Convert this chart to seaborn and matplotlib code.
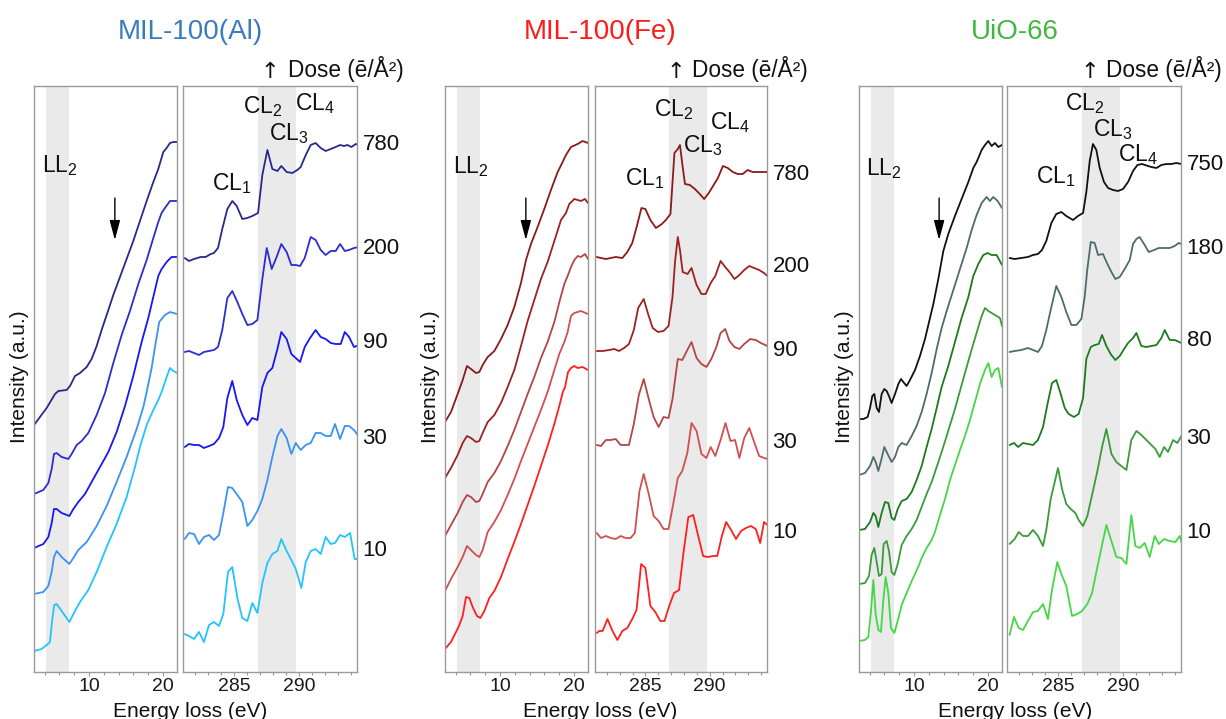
import matplotlib
matplotlib.use("Agg")
import matplotlib.pyplot as plt
from matplotlib.ticker import FixedLocator, MultipleLocator
import pandas as pd
import seaborn as sns

# ---------------------------------------------------------------- data
# energy in eV, intensity in arbitrary units (stacked spectra)
al_doses = ["780", "200", "90", "30", "10"]
fe_doses = ["780", "200", "90", "30", "10"]
uio_doses = ["750", "180", "80", "30", "10"]

al_colors = ["#29298c", "#2c2cd2", "#1717f2", "#3a93f2", "#22c4ff"]
fe_colors = ["#8b1a1a", "#9c2222", "#b24646", "#d24f4f", "#ff1f1f"]
uio_colors = ["#111111", "#4f6c6c", "#1e7a1e", "#3b9b3b", "#46d646"]

# ---- MIL-100(Al) low loss
al_low_780 = [(2.57,247),(4.28,264),(5.41,278),(5.86,281),(6.98,282),(7.44,286),(8.11,296),(8.79,299),(9.69,305),(10.36,313),(11.04,326),(11.71,342),(12.62,362),(13.29,377),(14.19,395),(15.09,413),(15.99,431),(16.89,451),(17.8,471),(18.7,490),(19.37,503),(20.05,520),(20.5,524),(20.95,529),(21.4,530),(21.9,530)]
al_low_200 = [(2.57,178),(3.83,182),(4.51,189),(4.96,203),(5.27,218),(5.63,219),(6.31,215),(7.21,213),(7.66,218),(8.34,227),(9.01,231),(9.91,239),(11.04,257),(12.17,279),(13.29,309),(14.42,337),(15.54,361),(16.67,388),(17.8,412),(18.7,434),(19.37,450),(19.82,459),(20.27,464),(20.95,471),(21.9,471)]
al_low_90 = [(2.57,124),(3.83,128),(4.51,135),(4.96,149),(5.27,163),(5.63,163),(6.31,159),(7.35,156),(7.89,163),(8.56,170),(9.46,178),(10.36,190),(11.49,205),(12.62,220),(13.74,240),(14.87,266),(15.99,296),(17.12,330),(18.02,354),(18.92,382),(19.37,396),(19.82,403),(20.5,410),(21.17,415),(21.9,415)]
al_low_30 = [(2.57,78),(3.83,80),(4.51,86),(4.96,100),(5.27,115),(5.63,121),(6.31,115),(7.35,108),(7.89,114),(8.56,122),(9.69,130),(11.04,146),(12.39,166),(13.74,190),(15.09,215),(16.44,243),(17.35,265),(17.8,280),(18.47,304),(18.92,325),(19.5,350),(20.27,357),(20.95,360),(21.9,358)]
al_low_10 = [(2.57,21),(3.6,23),(4.28,27),(4.73,30),(5.0,50),(5.3,67),(5.63,68),(6.31,61),(7.35,50),(8.11,61),(8.79,70),(9.91,82),(11.04,100),(12.39,125),(13.74,148),(15.09,175),(16.22,205),(16.89,225),(17.8,247),(18.7,262),(19.37,272),(19.82,280),(20.5,295),(20.95,304),(21.4,301),(21.9,299)]

# ---- MIL-100(Al) C K-edge
al_core_780 = [(281.21,414),(281.54,411),(281.93,413),(282.44,415),(282.82,415),(283.21,418),(283.46,419),(283.77,424),(284.1,443),(284.49,463),(284.87,471),(285.21,466),(285.64,453),(286.03,454),(286.41,456),(286.85,459),(287.18,497),(287.57,522),(287.95,503),(288.34,501),(288.64,506),(289.05,500),(289.49,499),(289.87,502),(290.13,505),(290.52,517),(290.9,527),(291.28,529),(291.67,524),(292.05,521),(292.44,523),(292.82,525),(293.16,527),(293.46,526),(293.72,527),(294.03,525),(294.36,528),(294.62,527)]
al_core_200 = [(281.21,320),(281.54,321),(281.93,319),(282.31,317),(282.69,320),(283.08,321),(283.46,322),(283.77,325),(284.1,342),(284.49,374),(284.87,381),(285.26,370),(285.64,358),(286.03,347),(286.41,348),(286.8,352),(287.18,393),(287.52,424),(287.9,403),(288.28,415),(288.64,428),(289.05,420),(289.41,407),(289.75,407),(290.08,406),(290.44,414),(290.9,435),(291.28,432),(291.67,422),(292.05,417),(292.44,421),(292.82,421),(293.16,428),(293.52,421),(293.85,422),(294.23,424),(294.62,425)]
al_core_90 = [(281.21,225),(281.54,228),(281.93,227),(282.31,227),(282.69,224),(283.08,226),(283.46,228),(283.85,234),(284.18,245),(284.49,274),(284.87,291),(285.21,272),(285.64,257),(286.03,247),(286.41,254),(286.8,252),(287.18,285),(287.57,299),(287.95,304),(288.34,323),(288.64,340),(289.05,333),(289.41,318),(289.75,314),(290.08,310),(290.44,325),(290.85,334),(291.28,342),(291.67,335),(292.05,333),(292.44,329),(292.82,328),(293.21,328),(293.52,340),(293.85,335),(294.23,325),(294.62,327)]
al_core_30 = [(281.21,133),(281.54,139),(281.93,138),(282.31,128),(282.69,135),(283.08,137),(283.46,132),(283.85,137),(284.18,159),(284.54,185),(284.87,184),(285.26,177),(285.64,170),(286.03,146),(286.41,152),(286.8,161),(287.18,173),(287.57,192),(287.95,215),(288.34,236),(288.64,243),(289.05,234),(289.41,218),(289.75,229),(290.13,222),(290.52,227),(290.9,229),(291.28,239),(291.67,239),(292.05,236),(292.44,236),(292.77,248),(293.16,233),(293.52,246),(293.85,246),(294.23,242),(294.62,235)]
al_core_10 = [(281.21,38),(281.54,36),(281.93,33),(282.31,40),(282.69,30),(283.08,47),(283.46,50),(283.85,46),(284.18,58),(284.54,100),(284.87,105),(285.26,74),(285.64,54),(286.03,51),(286.41,69),(286.8,59),(287.18,89),(287.57,109),(287.95,118),(288.34,121),(288.64,133),(289.05,121),(289.41,112),(289.75,103),(290.18,84),(290.52,110),(290.9,121),(291.28,123),(291.67,118),(292.05,135),(292.44,128),(292.77,129),(293.16,137),(293.52,135),(293.93,139),(294.28,113),(294.62,113)]

# ---- MIL-100(Fe) low loss
fe_low_780 = [(2.57,250),(3.38,260),(4.28,278),(4.96,292),(5.54,306),(6.08,303),(6.76,299),(7.21,300),(7.66,307),(8.34,315),(9.24,321),(10.14,333),(11.04,347),(11.94,365),(12.84,389),(13.52,412),(14.19,428),(15.09,445),(15.99,463),(16.89,482),(17.8,500),(18.47,510),(18.92,517),(19.6,525),(20.5,528),(21.17,531),(21.9,529)]
fe_low_200 = [(2.57,194),(3.38,204),(4.28,217),(4.96,229),(5.54,236),(6.08,234),(6.76,230),(7.21,231),(7.66,239),(8.34,250),(9.24,257),(10.14,269),(11.04,285),(11.94,302),(12.84,326),(13.74,351),(14.64,372),(15.54,393),(16.44,410),(17.35,431),(18.25,452),(18.92,459),(19.37,468),(20.05,473),(20.95,471),(21.49,473),(21.9,469)]
fe_low_90 = [(2.57,136),(3.38,147),(4.28,159),(4.96,170),(5.54,177),(6.08,175),(6.76,170),(7.21,171),(7.66,178),(8.34,190),(9.24,199),(10.14,211),(11.04,226),(11.94,242),(12.84,260),(13.74,278),(14.64,295),(15.54,314),(16.44,330),(17.35,350),(18.1,372),(18.7,388),(19.2,397),(19.6,405),(20.05,412),(20.5,416),(20.95,415),(21.49,418),(21.9,413)]
fe_low_30 = [(2.57,81),(3.38,93),(4.28,105),(4.96,115),(5.54,126),(6.08,122),(6.76,117),(7.21,115),(7.66,122),(8.34,140),(9.24,150),(10.14,162),(11.04,177),(11.94,193),(12.84,211),(13.74,228),(14.64,245),(15.54,262),(16.44,280),(17.35,302),(18.02,318),(18.7,330),(19.15,340),(19.6,356),(20.05,359),(20.95,361),(21.9,358)]
fe_low_10 = [(2.57,23),(3.38,30),(4.06,40),(4.51,47),(4.96,56),(5.41,75),(5.86,74),(6.31,65),(6.89,56),(7.35,54),(7.89,61),(8.56,74),(9.24,81),(10.14,95),(11.04,113),(11.94,130),(12.84,148),(13.74,167),(14.64,186),(15.54,206),(16.44,226),(17.35,248),(18.02,266),(18.5,280),(18.8,285),(19.2,300),(19.6,304),(20.05,306),(20.5,304),(21.17,305),(21.9,302)]

# ---- MIL-100(Fe) C K-edge
fe_core_780 = [(281.21,415),(281.54,414),(281.93,413),(282.31,414),(282.69,415),(283.21,414),(283.59,420),(283.98,429),(284.36,447),(284.69,464),(285.0,463),(285.39,452),(285.82,444),(286.28,448),(286.59,452),(286.95,458),(287.26,519),(287.52,523),(287.69,527),(287.87,508),(288.08,488),(288.46,487),(288.85,483),(289.23,478),(289.57,473),(289.93,479),(290.26,486),(290.64,494),(291.03,506),(291.41,504),(291.8,500),(292.18,498),(292.57,498),(292.95,502),(293.34,500),(293.72,500),(294.1,500),(294.49,500)]
fe_core_200 = [(281.21,321),(281.67,321),(282.18,322),(282.57,323),(282.95,321),(283.34,324),(283.72,328),(284.1,342),(284.44,364),(284.87,373),(285.21,358),(285.57,344),(285.98,340),(286.41,341),(286.8,346),(287.11,375),(287.31,411),(287.52,435),(287.69,422),(287.9,400),(288.28,398),(288.59,404),(288.98,387),(289.36,378),(289.69,378),(290.08,389),(290.44,396),(290.85,411),(291.21,405),(291.54,400),(291.93,393),(292.31,397),(292.69,402),(293.08,406),(293.46,404),(293.85,402),(294.23,399),(294.49,396)]
fe_core_90 = [(281.21,227),(281.54,226),(281.93,232),(282.31,232),(282.69,233),(283.08,227),(283.72,227),(284.1,248),(284.49,277),(284.87,293),(285.26,273),(285.64,255),(286.03,245),(286.41,255),(286.8,254),(287.11,273),(287.52,313),(287.87,312),(288.26,322),(288.59,330),(288.98,314),(289.36,308),(289.75,305),(290.13,313),(290.52,325),(290.85,339),(291.21,343),(291.54,331),(291.93,325),(292.31,323),(292.69,328),(293.16,333),(293.59,332),(293.98,329),(294.49,326)]
fe_core_30 = [(281.21,139),(281.54,134),(281.93,136),(282.31,134),(282.69,133),(283.08,136),(283.46,134),(283.85,134),(284.18,139),(284.54,181),(284.87,198),(285.26,178),(285.64,156),(286.03,151),(286.41,143),(286.8,143),(287.18,169),(287.52,194),(287.87,201),(288.26,219),(288.59,249),(288.98,241),(289.36,218),(289.75,214),(290.08,225),(290.44,216),(290.85,232),(291.23,249),(291.62,231),(291.98,232),(292.31,214),(292.69,234),(293.08,244),(293.46,230),(293.85,216),(294.23,214),(294.49,213)]
fe_core_10 = [(281.21,39),(281.41,41),(281.67,41),(282.05,53),(282.44,41),(282.82,32),(283.21,41),(283.59,44),(283.98,53),(284.31,62),(284.67,108),(285.0,104),(285.39,66),(285.77,60),(286.16,51),(286.49,51),(286.85,66),(287.23,79),(287.62,82),(287.95,118),(288.34,155),(288.72,157),(289.11,136),(289.49,116),(289.87,115),(290.26,116),(290.59,116),(290.95,136),(291.28,150),(291.67,142),(292.05,133),(292.44,141),(292.82,144),(293.21,146),(293.59,143),(293.93,129),(294.23,150),(294.49,147)]

# ---- UiO-66 low loss
uio_low_750 = [(2.57,253),(3.16,253),(3.74,255),(4.06,264),(4.37,276),(4.64,278),(4.96,264),(5.27,260),(5.63,278),(5.99,283),(6.31,281),(6.62,276),(6.98,269),(7.44,278),(7.89,288),(8.25,293),(8.56,290),(9.01,286),(9.46,292),(10.14,302),(10.81,316),(11.49,333),(11.94,347),(12.62,368),(13.29,393),(13.97,421),(14.64,438),(15.54,456),(16.44,473),(17.35,490),(18.02,504),(18.47,510),(19.15,522),(19.6,527),(20.05,531),(20.5,526),(20.95,529),(21.4,525),(21.9,527)]
uio_low_180 = [(2.57,197),(3.38,199),(4.06,206),(4.51,215),(4.82,210),(5.18,201),(5.54,211),(5.99,225),(6.44,218),(6.98,210),(7.44,215),(7.89,225),(8.34,229),(9.01,227),(9.69,236),(10.36,246),(11.04,260),(11.71,278),(12.39,299),(13.07,323),(13.74,344),(14.42,361),(15.32,382),(16.22,403),(17.12,424),(17.8,442),(18.47,457),(19.15,469),(19.82,475),(20.27,471),(20.72,475),(21.31,471),(21.9,464)]
uio_low_80 = [(2.57,142),(3.38,143),(4.06,150),(4.51,159),(4.82,156),(5.18,145),(5.63,159),(6.08,170),(6.53,169),(6.98,154),(7.35,152),(7.8,163),(8.34,171),(9.01,173),(9.69,180),(10.36,192),(11.04,206),(11.71,225),(12.39,243),(13.07,264),(13.74,285),(14.64,306),(15.54,330),(16.44,354),(17.35,375),(18.02,396),(18.7,408),(19.37,417),(19.96,419),(20.5,417),(21.17,417),(21.9,407)]
uio_low_30 = [(2.57,88),(3.38,89),(3.92,96),(4.28,117),(4.64,124),(4.96,110),(5.27,96),(5.63,98),(5.9,128),(6.31,131),(6.62,121),(6.98,100),(7.35,97),(7.8,108),(8.34,127),(9.01,136),(9.69,143),(10.36,152),(11.04,165),(11.71,178),(12.39,190),(13.07,205),(13.74,220),(14.42,236),(15.54,263),(16.44,287),(17.35,311),(18.02,328),(18.7,345),(19.15,356),(19.6,364),(20.05,361),(20.95,357),(21.62,354),(21.9,346)]
uio_low_10 = [(2.57,31),(3.38,32),(3.83,35),(4.19,61),(4.51,92),(4.82,58),(5.18,42),(5.54,40),(5.86,72),(6.17,95),(6.53,79),(6.89,44),(7.35,39),(7.8,51),(8.34,67),(9.01,79),(9.69,91),(10.14,98),(10.68,107),(11.04,114),(11.71,124),(12.39,132),(12.84,140),(13.52,157),(14.19,173),(14.87,192),(15.54,207),(16.22,222),(16.89,236),(17.57,252),(18.25,270),(18.92,288),(19.6,302),(20.05,309),(20.5,295),(20.95,302),(21.4,304),(21.9,285)]

# ---- UiO-66 C K-edge
uio_core_750 = [(281.28,414),(281.67,413),(282.18,414),(282.69,415),(283.08,417),(283.46,418),(283.77,422),(284.1,431),(284.49,449),(284.87,458),(285.26,460),(285.64,456),(286.16,452),(286.54,456),(286.93,459),(287.18,480),(287.44,511),(287.69,528),(287.95,522),(288.21,504),(288.54,490),(288.85,484),(289.23,482),(289.62,481),(290.0,483),(290.39,490),(290.77,501),(291.11,507),(291.46,508),(291.93,506),(292.18,505),(292.57,504),(292.95,507),(293.34,508),(293.72,508),(294.1,509),(294.49,508)]
uio_core_180 = [(281.28,320),(281.67,321),(282.18,322),(282.69,324),(283.08,322),(283.46,320),(283.77,326),(284.1,342),(284.49,365),(284.87,386),(285.26,375),(285.64,360),(286.03,347),(286.41,347),(286.8,353),(287.05,375),(287.26,403),(287.52,430),(287.82,429),(288.08,417),(288.46,418),(288.8,408),(289.11,400),(289.41,393),(289.75,395),(290.13,403),(290.52,412),(290.77,428),(291.03,433),(291.28,435),(291.62,428),(291.98,420),(292.39,422),(292.75,424),(293.16,424),(293.59,424),(293.98,426),(294.28,429),(294.49,428)]
uio_core_80 = [(281.28,227),(281.62,229),(281.93,225),(282.31,229),(282.69,228),(283.08,227),(283.46,232),(283.85,245),(284.18,267),(284.54,289),(284.87,292),(285.21,278),(285.52,264),(285.82,258),(286.23,255),(286.59,258),(286.93,274),(287.18,313),(287.52,325),(287.82,327),(288.13,328),(288.39,337),(288.72,326),(289.05,318),(289.41,312),(289.75,316),(290.08,323),(290.39,329),(290.77,334),(291.03,339),(291.41,326),(291.8,325),(292.18,326),(292.57,327),(292.95,334),(293.21,342),(293.59,332),(293.98,332),(294.49,329)]
uio_core_30 = [(281.28,128),(281.67,133),(281.98,140),(282.31,136),(282.69,136),(283.08,142),(283.46,136),(283.85,126),(284.1,142),(284.44,173),(284.75,190),(285.0,204),(285.31,183),(285.64,168),(285.98,163),(286.34,159),(286.59,152),(286.93,146),(287.26,156),(287.62,177),(288.03,201),(288.39,225),(288.72,243),(289.11,218),(289.49,210),(289.87,206),(290.26,202),(290.64,232),(291.03,241),(291.41,237),(291.8,232),(292.18,227),(292.49,223),(292.82,215),(293.16,225),(293.46,220),(293.85,232),(294.18,229),(294.49,236)]
uio_core_10 = [(281.28,37),(281.62,55),(281.98,44),(282.31,42),(282.69,51),(283.08,60),(283.46,61),(283.85,68),(284.23,53),(284.54,82),(284.95,110),(285.26,98),(285.64,86),(286.08,56),(286.49,58),(286.85,61),(287.26,68),(287.62,79),(287.95,100),(288.34,124),(288.72,147),(289.11,131),(289.49,115),(289.87,114),(290.26,108),(290.64,157),(290.95,126),(291.28,124),(291.67,129),(292.05,115),(292.44,136),(292.75,128),(293.16,133),(293.59,131),(294.03,130),(294.36,136),(294.62,124)]

titles = ["MIL-100(Al)", "MIL-100(Fe)", "UiO-66"]
title_colors = ["#3a7cc0", "#ff1a1a", "#3fb83f"]
peak_labels = ["CL$_1$", "CL$_2$", "CL$_3$", "CL$_4$"]
low_label = "LL$_2$"
dose_header = "Dose (ē/Å²)"
up_arrow = "↑"
low_band = (4.2, 7.3)
core_band = (286.85, 289.77)

# ---------------------------------------------------------------- layout
W, H = 1226, 719
AX_TOP, AX_BOT = 86, 672
low_px = [(34, 177), (445, 588), (859, 1002)]
core_px = [(183, 357), (595, 767), (1007, 1181)]
center_px = [190, 600, 1015]
ylabel_px = [20, 431, 845]
header_right_px = [404, 808, 1222]
arrow_head_px = [270, 676, 1090]
dose_label_y = [[527, 424, 330, 234, 122], [497, 405, 322, 230, 140], [508, 424, 332, 233, 140]]
peak_pos = [[(283.31, 482), (285.69, 559), (287.69, 532), (289.69, 562)],
            [(283.38, 487), (285.69, 556), (287.92, 520), (290.0, 543)],
            [(283.28, 489), (285.55, 562), (287.73, 536), (289.61, 511)]]
low_label_pos = [(3.65, 500), (3.65, 499), (3.56, 497)]
arrow_x = [13.5, 13.5, 13.4]
arrow_y = (474, 432)

sns.set_theme(style="white")
plt.rcParams["font.family"] = ["Liberation Sans", "DejaVu Sans"]
plt.rcParams["mathtext.fontset"] = "custom"
plt.rcParams["mathtext.rm"] = "Liberation Sans"
plt.rcParams["mathtext.it"] = "Liberation Sans:italic"
plt.rcParams["mathtext.bf"] = "Liberation Sans:bold"

fig = plt.figure(figsize=(W / 100, H / 100), dpi=100)
fig.patch.set_facecolor("white")


def add_ax(left, right):
    return fig.add_axes([left / W, 1 - AX_BOT / H, (right - left) / W, (AX_BOT - AX_TOP) / H])


def frame(spectra, doses):
    rows = []
    for dose, pts in zip(doses, spectra):
        for e, v in pts:
            rows.append((dose, e, v))
    return pd.DataFrame(rows, columns=["dose", "energy", "intensity"])


def style(ax, xlim, major, minor, band):
    ax.axvspan(*band, color="#eaeaea", lw=0, zorder=0)
    ax.set_xlim(*xlim)
    ax.set_ylim(0, 586)
    ax.set_yticks([])
    ax.set_xlabel("")
    ax.set_ylabel("")
    ax.xaxis.set_major_locator(FixedLocator(major))
    ax.xaxis.set_minor_locator(MultipleLocator(minor))
    ax.tick_params(axis="x", which="both", bottom=True, direction="out", color="#999999",
                   width=0.8, labelsize=14, pad=1.5, labelcolor="#1a1a1a")
    ax.tick_params(axis="x", which="major", length=3)
    ax.tick_params(axis="x", which="minor", length=2.5)
    for s in ax.spines.values():
        s.set_color("#9a9a9a")
        s.set_linewidth(1.0)
    ax.set_facecolor("white")


groups = [
    (al_doses, al_colors, [al_low_780, al_low_200, al_low_90, al_low_30, al_low_10],
     [al_core_780, al_core_200, al_core_90, al_core_30, al_core_10]),
    (fe_doses, fe_colors, [fe_low_780, fe_low_200, fe_low_90, fe_low_30, fe_low_10],
     [fe_core_780, fe_core_200, fe_core_90, fe_core_30, fe_core_10]),
    (uio_doses, uio_colors, [uio_low_750, uio_low_180, uio_low_80, uio_low_30, uio_low_10],
     [uio_core_750, uio_core_180, uio_core_80, uio_core_30, uio_core_10]),
]

for g, (doses, colors, low, core) in enumerate(groups):
    ax_l = add_ax(*low_px[g])
    ax_c = add_ax(*core_px[g])
    sns.lineplot(data=frame(low, doses), x="energy", y="intensity", hue="dose",
                 hue_order=doses, palette=colors, estimator=None, legend=False,
                 linewidth=1.3, ax=ax_l)
    sns.lineplot(data=frame(core, doses), x="energy", y="intensity", hue="dose",
                 hue_order=doses, palette=colors, estimator=None, legend=False,
                 linewidth=1.3, ax=ax_c)
    style(ax_l, (2.57, 21.9), [10, 20], 2, low_band)
    style(ax_c, (281.08, 294.46), [285, 290], 1, core_band)

    # peak annotations
    for lab, (x, y) in zip(peak_labels, peak_pos[g]):
        ax_c.text(x, y, lab, fontsize=16.5, ha="left", va="baseline", color="#111111")
    ax_l.text(*low_label_pos[g], low_label, fontsize=16.5, ha="left", va="baseline", color="#111111")
    ax_l.annotate("", xy=(arrow_x[g], arrow_y[1]), xytext=(arrow_x[g], arrow_y[0]),
                  arrowprops=dict(arrowstyle="-|>,head_length=1.2,head_width=0.32",
                                  mutation_scale=10, color="black", lw=1.0,
                                  shrinkA=0, shrinkB=0))
    # dose labels
    for lab, y in zip(doses, dose_label_y[g]):
        ax_c.text(1.032, y, lab, transform=ax_c.get_yaxis_transform(), fontsize=16,
                  ha="left", va="center", color="#111111", clip_on=False)

    # figure-level texts
    fig.text(center_px[g] / W, 1 - 39 / H, titles[g], fontsize=20, color=title_colors[g],
             ha="center", va="baseline")
    fig.text(header_right_px[g] / W, 1 - 77 / H, dose_header, fontsize=16.3, color="#111111",
             ha="right", va="baseline")
    fig.text(arrow_head_px[g] / W, 1 - 78 / H, up_arrow, fontsize=16, color="#111111",
             ha="center", va="baseline", family=["DejaVu Sans"])
    fig.text(ylabel_px[g] / W, 1 - 377 / H, "Intensity (a.u.)", fontsize=15, rotation=90,
             ha="center", va="center", color="#111111")
    fig.text(center_px[g] / W, 1 - 717 / H, "Energy loss (eV)", fontsize=15,
             ha="center", va="baseline", color="#111111")

fig.savefig("out.png", dpi=100, facecolor="white")
